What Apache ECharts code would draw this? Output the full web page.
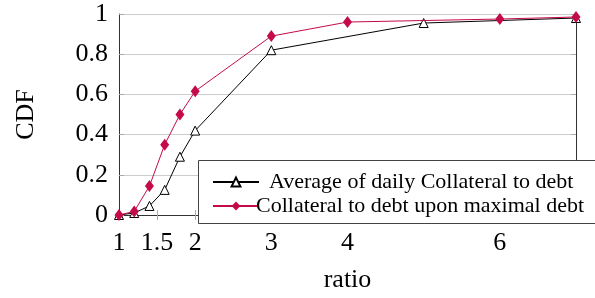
<!DOCTYPE html>
<html>
<head>
<meta charset="utf-8">
<script src="https://cdn.jsdelivr.net/npm/echarts@6/dist/echarts.min.js"></script>
<style>
	html, body { margin: 0; padding: 0; background: #fff; }
	#chart { width: 595px; height: 298px; }
</style>
</head>
<body>
<div id="chart"></div>
<script>
	var xTicks = [1, 1.5, 2, 3, 4, 6];
	var yTicks = [0, 0.2, 0.4, 0.6, 0.8, 1];
	var avgName = 'Average of daily Collateral to debt';
	var avgData = [[1, 0], [1.2, 0.01], [1.4, 0.045], [1.6, 0.125], [1.8, 0.29], [2, 0.42], [3, 0.82], [5, 0.955], [7, 0.98]];
	var maxName = 'Collateral to debt upon maximal debt';
	var maxData = [[1, 0], [1.2, 0.018], [1.4, 0.144], [1.6, 0.35], [1.8, 0.5], [2, 0.616], [3, 0.89], [4, 0.96], [6, 0.975], [7, 0.985]];

	var serif = 'Liberation Serif';
	var red = '#c40a4a';

	var chart = echarts.init(document.getElementById('chart'));
	var option = {
		animation: false,
		textStyle: { fontFamily: serif },
		grid: { left: 119, right: 19, top: 14, bottom: 75 },
		graphic: [
			{
				type: 'rect',
				z: 50,
				shape: { x: 198.5, y: 160.5, width: 420, height: 63 },
				style: { fill: '#fff', stroke: '#444', lineWidth: 1 }
			}
		],
		legend: {
			orient: 'vertical',
			left: 207,
			top: 166,
			itemGap: 2,
			itemWidth: 46,
			itemHeight: 11,
			z: 60,
			textStyle: { fontFamily: serif, fontSize: 22, color: '#000' },
			data: [
				{ name: avgName, textStyle: { padding: [0, 0, 0, 5] } },
				{ name: maxName, textStyle: { padding: [0, 0, 0, -8] } }
			]
		},
		xAxis: [
			{
				type: 'value',
				min: 1,
				max: 7,
				name: 'ratio',
				nameLocation: 'middle',
				nameGap: 52,
				nameTextStyle: { fontFamily: serif, fontSize: 26, color: '#000' },
				axisLine: { lineStyle: { color: '#333', width: 1 } },
				axisTick: { inside: true, length: 5, customValues: xTicks, lineStyle: { color: '#aaa' } },
				axisLabel: { customValues: xTicks, margin: 15, fontFamily: serif, fontSize: 26, color: '#000' },
				splitLine: { show: false }
			},
			{
				type: 'value',
				position: 'top',
				min: 1,
				max: 7,
				axisLine: { lineStyle: { color: '#333', width: 1 } },
				axisTick: { inside: true, length: 5, customValues: xTicks, lineStyle: { color: '#aaa' } },
				axisLabel: { show: false },
				splitLine: { show: false }
			}
		],
		yAxis: [
			{
				type: 'value',
				min: 0,
				max: 1,
				interval: 0.2,
				name: 'CDF',
				nameLocation: 'middle',
				nameGap: 80,
				nameTextStyle: { fontFamily: serif, fontSize: 26, color: '#000' },
				axisLine: { show: true, lineStyle: { color: '#333', width: 1 } },
				axisTick: { show: true, inside: true, length: 5, lineStyle: { color: '#aaa' } },
				axisLabel: {
					margin: 11, fontFamily: serif, fontSize: 26, color: '#000',
					padding: [0, 0, 12, 0],
					formatter: function (v) { return String(Math.round(v * 10) / 10); }
				},
				splitLine: { show: true, lineStyle: { color: '#ccc', width: 1 } }
			},
			{
				type: 'value',
				position: 'right',
				min: 0,
				max: 1,
				interval: 0.2,
				axisLine: { show: true, lineStyle: { color: '#333', width: 1 } },
				axisTick: { show: true, inside: true, length: 5, lineStyle: { color: '#aaa' } },
				axisLabel: { show: false },
				splitLine: { show: false }
			}
		],
		series: [
			{
				name: avgName,
				type: 'line',
				data: avgData,
				symbol: 'triangle',
				symbolSize: 9,
				showAllSymbol: true,
				lineStyle: { color: '#000', width: 1 },
				itemStyle: { color: '#fff', borderColor: '#000', borderWidth: 1 },
				z: 3
			},
			{
				name: maxName,
				type: 'line',
				data: maxData,
				symbol: 'diamond',
				symbolSize: [9, 12],
				showAllSymbol: true,
				lineStyle: { color: red, width: 1 },
				itemStyle: { color: red },
				z: 4
			}
		]
	};
	chart.setOption(option);
</script>
</body>
</html>
